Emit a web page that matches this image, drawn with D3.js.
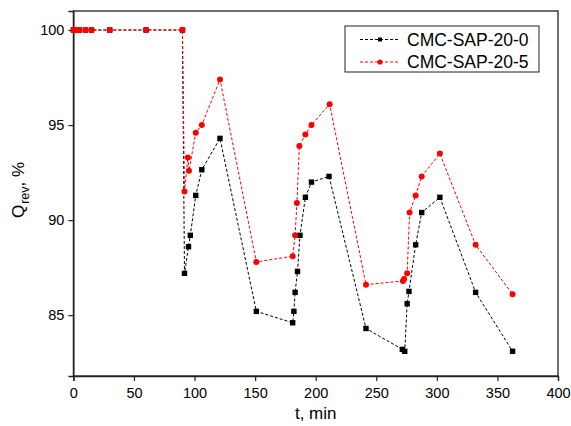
<!DOCTYPE html>
<head>
<meta charset="utf-8">
<style>
body { margin: 0; background: #fff; }
svg { display: block; font-family: "Liberation Sans", Arial, sans-serif; }
</style>
</head>
<body>
<script src="https://cdnjs.cloudflare.com/ajax/libs/d3/7.8.5/d3.min.js"></script>
<script>

// series
var tBlack = [0, 1, 3, 5, 10, 15, 30, 60, 90,
  91.7, 95, 96.5, 101, 106, 121, 151,
  181, 182, 183, 185, 187, 191.5, 196.5, 211, 241.5,
  271.5, 273.5, 275.5, 277, 282.5, 287.5, 302.5, 332, 362.5];
var qBlack = [100, 100, 100, 100, 100, 100, 100, 100, 100,
  87.2, 88.6, 89.2, 91.3, 92.65, 94.3, 85.2,
  84.6, 85.2, 86.2, 87.3, 89.2, 91.2, 92.0, 92.3, 84.3,
  83.2, 83.1, 85.6, 86.25, 88.7, 90.4, 91.2, 86.2, 83.1];

var tRed = [0, 1, 3, 5, 10, 15, 30, 60, 90,
  91.7, 94.5, 95.4, 101, 106, 121, 151,
  181, 183, 184.5, 186.5, 191.5, 196.5, 211.5, 241.5,
  272, 273, 275.5, 277.5, 282.5, 287.5, 302.5, 332, 362.5];
var qRed = [100, 100, 100, 100, 100, 100, 100, 100, 100,
  91.5, 93.3, 92.6, 94.6, 95.0, 97.4, 87.8,
  88.1, 89.2, 90.9, 93.9, 94.5, 95.0, 96.1, 86.6,
  86.8, 86.9, 87.2, 90.4, 91.3, 92.3, 93.5, 88.7, 86.1];

var seriesNames = ['CMC-SAP-20-0', 'CMC-SAP-20-5'];
var xTicks = [0, 50, 100, 150, 200, 250, 300, 350, 400];
var yTicks = [85, 90, 95, 100];

var width = 571, height = 426;
var pL = 73.4, pR = 558, pT = 11, pB = 376;

var svg = d3.select('body').append('svg')
    .attr('width', width)
    .attr('height', height);

var x = d3.scaleLinear().domain([0, 400]).range([pL, pR]);
var y = d3.scaleLinear().domain([81.8, 101]).range([pB, pT]);

// frame
svg.append('rect')
    .attr('x', pL).attr('y', pT)
    .attr('width', pR - pL).attr('height', pB - pT)
    .attr('fill', 'none').attr('stroke', '#222').attr('stroke-width', 1.3);

var xAxis = svg.append('g')
    .attr('transform', 'translate(0,' + pB + ')')
    .call(d3.axisBottom(x).tickValues(xTicks).tickSize(5).tickPadding(7));
var yAxis = svg.append('g')
    .attr('transform', 'translate(' + pL + ',0)')
    .call(d3.axisLeft(y).tickValues(yTicks).tickSize(5).tickPadding(4));

[xAxis, yAxis].forEach(function(g) {
  g.select('.domain').attr('stroke', '#222').attr('stroke-width', 1.3);
  g.selectAll('.tick line').attr('stroke', '#222').attr('stroke-width', 1.2);
  g.selectAll('.tick text')
      .attr('fill', '#000')
      .style('font-size', '14.5px')
      .style('font-family', '"Liberation Sans", Arial, sans-serif');
});

// axis titles
svg.append('text')
    .attr('x', (pL + pR) / 2)
    .attr('y', 419)
    .attr('text-anchor', 'middle')
    .style('font-size', '17px')
    .text('t, min');

var ylab = svg.append('text')
    .attr('transform', 'translate(24,190) rotate(-90)')
    .attr('text-anchor', 'middle')
    .style('font-size', '17px');
ylab.append('tspan').text('Q');
ylab.append('tspan').attr('dy', 5).attr('dx', 1).style('font-size', '12.5px').text('rev');
ylab.append('tspan').attr('dy', -5).text(', %');

var line = d3.line()
    .x(function(d) { return x(d[0]); })
    .y(function(d) { return y(d[1]); });

function drawSeries(ts, qs, color, shape) {
  var pts = ts.map(function(t, i) { return [t, qs[i]]; });
  svg.append('path')
      .datum(pts)
      .attr('d', line)
      .attr('fill', 'none')
      .attr('stroke', color)
      .attr('stroke-width', 1)
      .attr('stroke-dasharray', '3,2');
  if (shape === 'square') {
    svg.selectAll(null).data(pts).enter().append('rect')
        .attr('x', function(d) { return x(d[0]) - 2.7; })
        .attr('y', function(d) { return y(d[1]) - 2.7; })
        .attr('width', 5.4).attr('height', 5.4)
        .attr('fill', color);
  } else {
    svg.selectAll(null).data(pts).enter().append('circle')
        .attr('cx', function(d) { return x(d[0]); })
        .attr('cy', function(d) { return y(d[1]); })
        .attr('r', 3)
        .attr('fill', color);
  }
}

drawSeries(tBlack, qBlack, '#000', 'square');
drawSeries(tRed, qRed, '#f00', 'circle');

// legend
var lg = svg.append('g');
lg.append('rect')
    .attr('x', 345).attr('y', 26)
    .attr('width', 194).attr('height', 46)
    .attr('fill', '#fff').attr('stroke', '#222').attr('stroke-width', 1);

var legendItems = [
  { name: seriesNames[0], color: '#000', shape: 'square', cy: 39.5 },
  { name: seriesNames[1], color: '#f00', shape: 'circle', cy: 62 }
];
legendItems.forEach(function(it) {
  lg.append('line')
      .attr('x1', 360).attr('x2', 400)
      .attr('y1', it.cy).attr('y2', it.cy)
      .attr('stroke', it.color).attr('stroke-width', 1)
      .attr('stroke-dasharray', '3,2');
  if (it.shape === 'square') {
    lg.append('rect').attr('x', 378).attr('y', it.cy - 2)
        .attr('width', 4).attr('height', 4).attr('fill', it.color);
  } else {
    lg.append('circle').attr('cx', 380).attr('cy', it.cy)
        .attr('r', 2.6).attr('fill', it.color);
  }
  lg.append('text')
      .attr('x', 407).attr('y', it.cy + 6)
      .style('font-size', '17.5px')
      .text(it.name);
});

</script>
</body>
</html>
